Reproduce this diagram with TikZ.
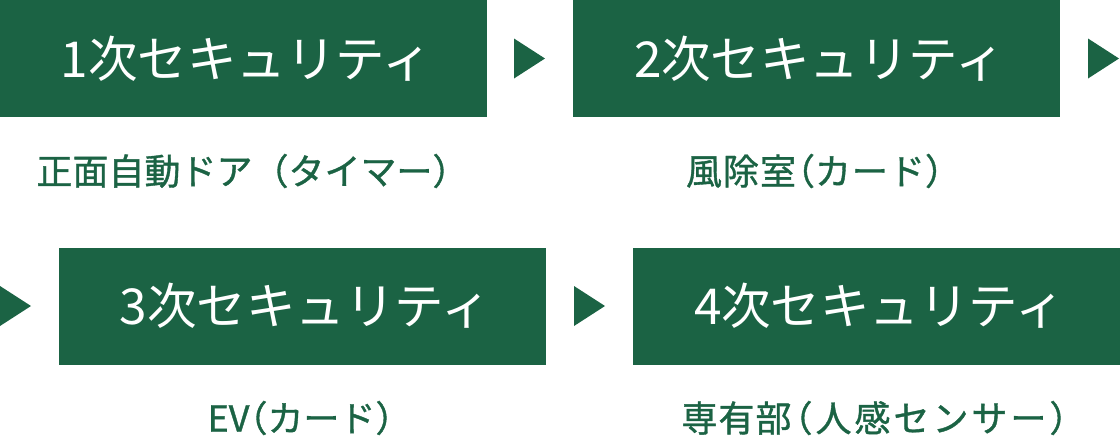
\documentclass[tikz,border=0pt]{standalone}
\usepackage{fontspec}
\usetikzlibrary{calc}
\setmainfont{Noto Sans CJK JP}
\newfontfamily\titlefont{Noto Sans CJK JP}
\newfontfamily\labelfont[FakeBold=1.0]{Noto Sans CJK JP}
\definecolor{dgreen}{HTML}{1B6344}
\newcommand{\hlp}{\kern-0.5em（}
\newcommand{\hrp}{）\kern-0.5em}
\newcommand{\tk}{\kern3pt}
\tikzset{
  secbox/.style={fill=dgreen, draw=none, minimum width=487pt, minimum height=117pt,
    inner sep=0pt, outer sep=0pt, text=white, font=\titlefont\fontsize{49.5}{49.5}\selectfont,
    execute at begin node={\hspace*{6pt}}},
  seclabel/.style={inner sep=0pt, text=dgreen, font=\labelfont\fontsize{36}{36}\selectfont},
  tri/.style={fill=dgreen, draw=none}
}
\begin{document}
\begin{tikzpicture}[x=1pt,y=-1pt]
\useasboundingbox (0,0) rectangle (1120,440);
% boxes
\node[secbox] (s1) at (243.5,58.5) {1次セキュリティ};
\node[secbox] (s2) at (1060-243.5,58.5) {2次セキュリティ};
\node[secbox] (s3) at (302.5,306) {3次セキュリティ};
\node[secbox] (s4) at (1120-243.5,306) {4次セキュリティ};
% labels
\node[seclabel] (l1) at (s1.center |- 0,171) {正面自動ドア（タイマー\hrp};
\node[seclabel] (l2) at ([xshift=-2pt]s2.center |- 0,171) {風\kern1pt除\kern1pt室\kern1pt\hlp カ\kern1pt ー\kern1pt ド\hrp};
\node[seclabel] (l3) at ([xshift=-2pt]s3.center |- 0,418) {EV\hlp カード\hrp};
\node[seclabel] (l4) at ([xshift=-2pt]s4.center |- 0,418) {専\kern1pt有\kern1pt部\tk\hlp\tk 人\tk 感\tk セ\tk ン\tk サ\tk ー\tk\hrp};
% arrows
\coordinate (a1) at (514,58.5);
\coordinate (a2) at (1088,58.5);
\coordinate (a3) at (0,306);
\coordinate (a4) at (574,306);
\foreach \a in {a1,a2,a3,a4}{
  \fill[tri] ($(\a)+(0,-20)$) -- ($(\a)+(31,0)$) -- ($(\a)+(0,20)$) -- cycle;
}
\end{tikzpicture}
\end{document}
